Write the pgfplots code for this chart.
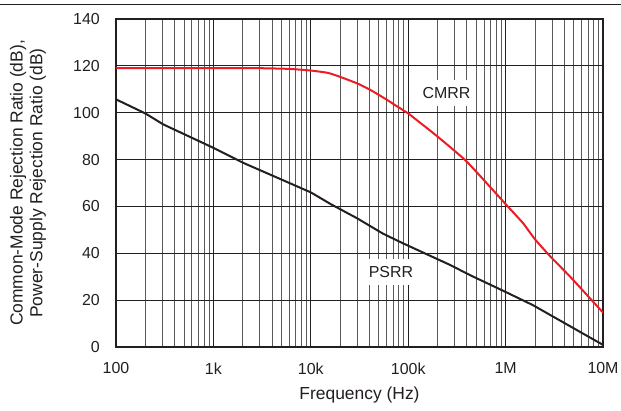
\documentclass[border=0pt]{standalone}
\usepackage{fontspec}
\setmainfont{Liberation Sans}
\usepackage{pgfplots}
\pgfplotsset{compat=1.18}

\definecolor{cmrrred}{RGB}{237,28,36}
\definecolor{ink}{RGB}{35,31,32}

\begin{document}
\begin{tikzpicture}
\path[use as bounding box] (-116bp,-64bp) rectangle (505bp,347bp);
\draw[ink, line width=1.5bp] (-116bp,342.5bp) -- (505bp,342.5bp);
\begin{axis}[
    at={(0,0)}, anchor=south west,
    scale only axis,
    width=487bp, height=328bp,
    xmode=log,
    xmin=100, xmax=1e7,
    ymin=0, ymax=140,
    xtick={1e2,1e3,1e4,1e5,1e6,1e7},
    xticklabels={100,1k,10k,100k,1M,10M},
    ytick={0,20,40,60,80,100,120,140},
    major tick length=0pt, minor tick length=0pt,
    xmajorgrids=true, xminorgrids=true, ymajorgrids=true,
    major grid style={ink, line width=0.8bp},
    minor grid style={black!65, line width=0.8bp},
    axis line style={ink, line width=2bp},
    /pgf/number format/assume math mode=true,
    tick label style={font=\fontsize{16}{19}\selectfont, text=ink, inner sep=0pt},
    xticklabel style={anchor=north, yshift=-15.5bp},
    yticklabel style={anchor=east, xshift=-16bp},
    xlabel={Frequency (Hz)},
    ylabel={Common-Mode Rejection Ratio (dB),\\Power-Supply Rejection Ratio (dB)},
    label style={font=\fontsize{17.5}{20}\selectfont, text=ink},
    xlabel style={at={([yshift=-48bp]axis description cs:0.5,0)}, anchor=center},
    ylabel style={at={([xshift=-88bp]axis description cs:0,0.5)}, anchor=center, align=center},
]

% CMRR
\addplot[cmrrred, line width=2bp, smooth, tension=0.3] coordinates {
  (100,119) (1000,119) (3000,119) (6000,118.7) (10000,118) (15000,117)
  (20000,115.3) (30000,112.5) (41000,109.7) (60000,105.6) (73000,103.3)
  (100000,99.7) (122000,96.9) (195000,90.2) (400000,79.1) (1000000,61)
  (1500000,53) (2000000,46) (2900000,38.5) (4600000,30) (10000000,14.7)
};

% PSRR
\addplot[ink, line width=2bp] coordinates {
  (100,105.7) (200,99.7) (306,95) (1000,85) (2000,78.7) (10000,66)
  (16000,61) (30000,54.9) (55000,48.4) (89000,44.2) (270000,35)
  (430000,30.7) (1000000,23.5) (1900000,17.9) (10000000,0.9)
};

\node[fill=white, inner xsep=3bp, inner ysep=7bp, text=ink,
      font=\fontsize{16}{19}\selectfont] at (axis cs:2.47e5,108.4) {CMRR};
\node[fill=white, inner xsep=3bp, inner ysep=7bp, text=ink,
      font=\fontsize{16}{19}\selectfont] at (axis cs:6.65e4,32) {PSRR};
\end{axis}
\end{tikzpicture}
\end{document}
